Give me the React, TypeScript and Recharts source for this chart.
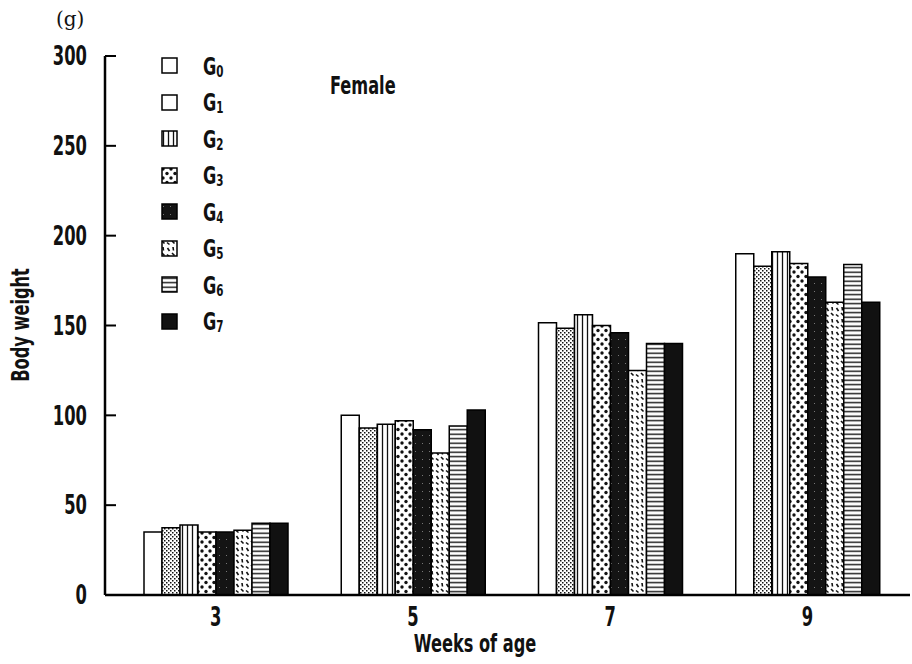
import { Bar, BarChart, Legend, XAxis, YAxis } from "recharts";

const FONT = "'DejaVu Sans Condensed', 'Liberation Sans Narrow', sans-serif";

// weeks of age
const weeks = ["3", "5", "7", "9"];

// body weight (g) per group, one value per week
const g0 = [35, 100, 151.5, 190];
const g1 = [37.5, 93, 148.5, 183];
const g2 = [39, 95, 156, 191];
const g3 = [35, 97, 150, 184.5];
const g4 = [35, 92, 146, 177];
const g5 = [36, 79, 125, 163];
const g6 = [40, 94, 140, 184];
const g7 = [40, 103, 140, 163];

const groups = ["G0", "G1", "G2", "G3", "G4", "G5", "G6", "G7"];
const yTicks = [0, 50, 100, 150, 200, 250, 300];

const series = [g0, g1, g2, g3, g4, g5, g6, g7];
const data = weeks.map((w, i) => {
  const row: Record<string, string | number> = { week: w };
  groups.forEach((g, k) => (row[g] = series[k][i]));
  return row;
});

const fills = [
  "#ffffff",
  "url(#pat-g1)",
  "url(#pat-g2)",
  "url(#pat-g3)",
  "url(#pat-g4)",
  "url(#pat-g5)",
  "url(#pat-g6)",
  "#111111",
];
// the legend swatch for G1 is drawn plain white in the original
const legendFills = ["#ffffff", "#ffffff", ...fills.slice(2)];

const textStyle = {
  fontFamily: FONT,
  fontWeight: 700,
  color: "#111",
  whiteSpace: "nowrap" as const,
};

function Patterns() {
  return (
    <defs>
      <pattern id="pat-g1" width={4} height={4} patternUnits="userSpaceOnUse">
        <rect width={4} height={4} fill="#fff" />
        <rect x={0} y={0} width={1.5} height={1.5} fill="#111" />
        <rect x={2} y={2} width={1.5} height={1.5} fill="#111" />
      </pattern>
      <pattern id="pat-g2" width={5} height={5} patternUnits="userSpaceOnUse">
        <rect width={5} height={5} fill="#fff" />
        <line x1={2.5} x2={2.5} y1={0} y2={5} stroke="#111" strokeWidth={1.3} />
      </pattern>
      <pattern id="pat-g3" width={8} height={9} patternUnits="userSpaceOnUse">
        <rect width={8} height={9} fill="#fff" />
        <circle cx={2} cy={2} r={1.7} fill="#111" />
        <circle cx={6} cy={6.5} r={1.7} fill="#111" />
      </pattern>
      <pattern id="pat-g4" width={7} height={8} patternUnits="userSpaceOnUse">
        <rect width={7} height={8} fill="#141414" />
        <rect x={2} y={3} width={1} height={1} fill="#777" />
      </pattern>
      <pattern id="pat-g5" width={10} height={12} patternUnits="userSpaceOnUse">
        <rect width={10} height={12} fill="#fff" />
        <line x1={1} y1={1} x2={3.5} y2={3.5} stroke="#111" strokeWidth={1.6} />
        <line x1={6} y1={2.5} x2={8.5} y2={4.5} stroke="#111" strokeWidth={1.6} />
        <line x1={2} y1={7} x2={2.5} y2={10.5} stroke="#111" strokeWidth={1.6} />
        <line x1={6.5} y1={8} x2={8.5} y2={11} stroke="#111" strokeWidth={1.6} />
      </pattern>
      <pattern id="pat-g6" width={4} height={4.5} patternUnits="userSpaceOnUse">
        <rect width={4} height={4.5} fill="#fff" />
        <line x1={0} x2={4} y1={2.2} y2={2.2} stroke="#111" strokeWidth={1.4} />
      </pattern>
    </defs>
  );
}

function YTick(props: any) {
  const { x, y, payload } = props;
  return (
    <g>
      {payload.value !== 0 && (
        <line x1={x} x2={x + 11} y1={y} y2={y} stroke="#000" strokeWidth={2} />
      )}
      <text
        transform={`translate(${x - 18},${y}) scale(0.7,1)`}
        textAnchor="end"
        dominantBaseline="central"
        fontFamily={FONT}
        fontWeight={700}
        fontSize={26}
        fill="#111"
      >
        {payload.value}
      </text>
    </g>
  );
}

function XTick(props: any) {
  const { x, y, payload } = props;
  return (
    <text
      transform={`translate(${x},${y + 22}) scale(0.7,1)`}
      textAnchor="middle"
      dominantBaseline="central"
      fontFamily={FONT}
      fontWeight={700}
      fontSize={26}
      fill="#111"
    >
      {payload.value}
    </text>
  );
}

function GroupLegend() {
  return (
    <div style={textStyle}>
      {groups.map((g, i) => (
        <div key={g} style={{ display: "flex", alignItems: "center", height: 36.5 }}>
          <svg width={18} height={18} style={{ marginRight: 24 }}>
            <rect x={1} y={1} width={15} height={15} fill={legendFills[i]} stroke="#000" strokeWidth={1.5} />
          </svg>
          <span style={{ fontSize: 25, display: "inline-block", transform: "scaleX(0.72)", transformOrigin: "left center" }}>
            G<sub style={{ fontSize: 16, verticalAlign: "-2px" }}>{g.slice(1)}</sub>
          </span>
        </div>
      ))}
    </div>
  );
}

export default function App() {
  return (
    <div style={{ position: "absolute", left: 0, top: 0, width: 912, height: 664, background: "#fff" }}>
      <BarChart
        width={912}
        height={664}
        data={data}
        margin={{ top: 56, right: 2, bottom: 39, left: 45 }}
        barGap={0}
        barSize={18}
      >
        <Patterns />
        <XAxis
          dataKey="week"
          axisLine={{ stroke: "#000", strokeWidth: 2.5 }}
          tickLine={false}
          tickSize={0}
          tickMargin={0}
          tick={<XTick />}
          padding={{ left: 12, right: 4 }}
          height={30}
        />
        <YAxis
          domain={[0, 300]}
          ticks={yTicks}
          width={60}
          axisLine={{ stroke: "#000", strokeWidth: 2.5 }}
          tickLine={false}
          tickSize={0}
          tickMargin={0}
          tick={<YTick />}
          interval={0}
        />
        <Legend
          layout="vertical"
          align="center"
          verticalAlign="middle"
          content={<GroupLegend />}
          wrapperStyle={{ position: "absolute", left: 161, top: 48, width: 90 }}
        />
        {groups.map((g, i) => (
          <Bar
            key={g}
            dataKey={g}
            fill={fills[i]}
            stroke="#000"
            strokeWidth={1.5}
            isAnimationActive={false}
          />
        ))}
      </BarChart>
      <div style={{ position: "absolute", left: 56, top: 7, fontFamily: "'DejaVu Serif', 'Liberation Serif', serif", fontSize: 20, color: "#111" }}>
        (g)
      </div>
      <div style={{ ...textStyle, position: "absolute", left: 330, top: 71, fontSize: 25, transform: "scaleX(0.72)", transformOrigin: "left top" }}>
        Female
      </div>
      <div
        style={{
          ...textStyle,
          position: "absolute",
          left: 20,
          top: 325,
          transform: "translate(-50%, -50%) rotate(-90deg) scaleX(0.72)",
          fontSize: 25,
        }}
      >
        Body weight
      </div>
      <div
        style={{
          ...textStyle,
          position: "absolute",
          left: 475,
          top: 643,
          transform: "translate(-50%, -50%) scaleX(0.72)",
          fontSize: 25,
        }}
      >
        Weeks of age
      </div>
    </div>
  );
}
